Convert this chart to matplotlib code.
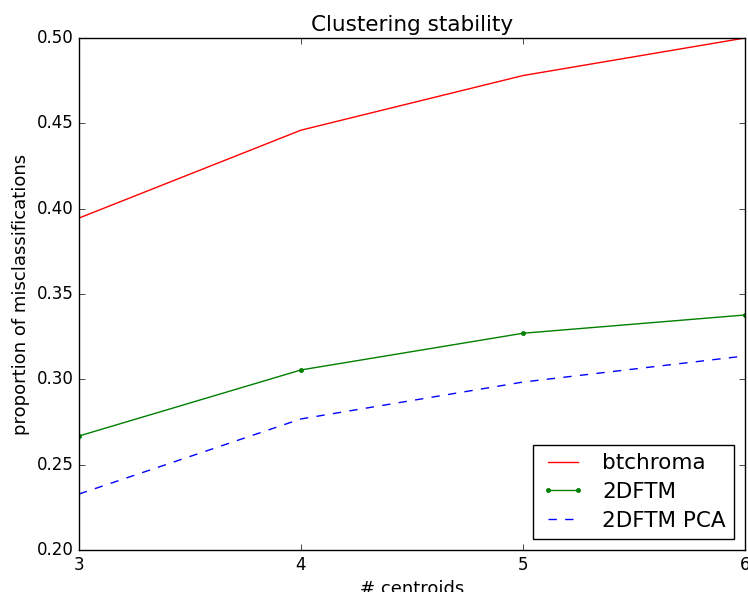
import matplotlib
matplotlib.use('Agg')
import matplotlib.pyplot as plt

# number of centroids and misclassification rates
centroids = [3, 4, 5, 6]
btchroma = [0.3945, 0.446, 0.478, 0.500]
dftm = [0.2668, 0.3055, 0.327, 0.3377]
dftm_pca = [0.2328, 0.2768, 0.2984, 0.3137]

plt.style.use('classic')

fig = plt.figure(figsize=(7.48, 5.92), dpi=100)
ax = fig.add_axes([79/748., 42/592., 666/748., 512/592.])

ax.plot(centroids, btchroma, 'r-', label='btchroma')
ax.plot(centroids, dftm, 'g.-', label='2DFTM')
ax.plot(centroids, dftm_pca, 'b--', label='2DFTM PCA')

ax.set_xlim(3, 6)
ax.set_ylim(0.20, 0.50)
ax.set_xticks([3, 4, 5, 6])
ax.set_title('Clustering stability', fontsize=15.5)
ax.set_xlabel('# centroids', fontsize=13)
ax.set_ylabel('proportion of misclassifications', fontsize=13)
ax.legend(loc='lower right', prop={'size': 15.5}, labelspacing=0.4)

fig.savefig('out.png', dpi=100)
